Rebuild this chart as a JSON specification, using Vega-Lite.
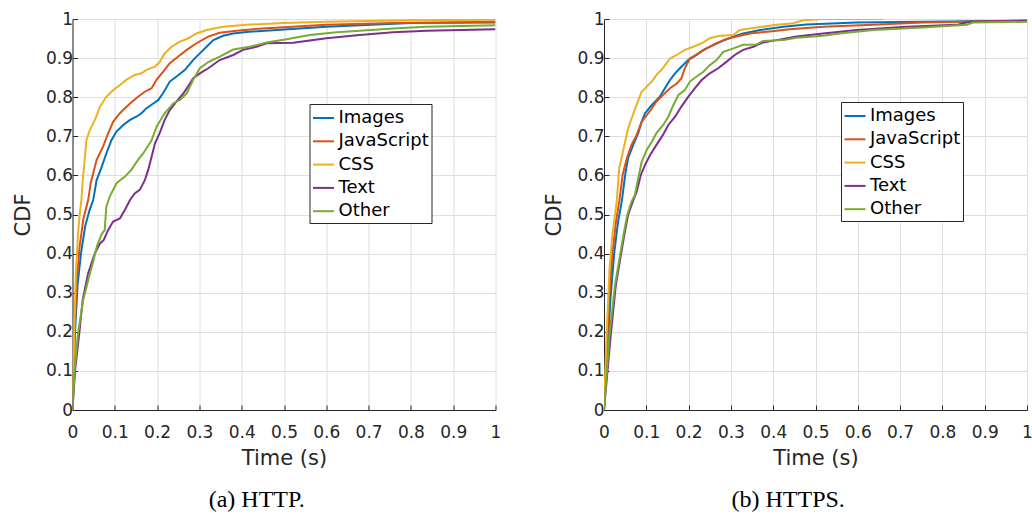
{
  "$schema": "https://vega.github.io/schema/vega-lite/v6.json",
  "padding": {"left": 11.5, "top": 10, "right": 0, "bottom": 0},
  "spacing": 41.5,
  "config": {
    "view": {"stroke": null},
    "font": "DejaVu Sans",
    "axis": {
      "grid": true,
      "gridColor": "#dedede",
      "gridWidth": 1,
      "domainColor": "#262626",
      "domainWidth": 1,
      "tickColor": "#262626",
      "tickSize": -5,
      "labelColor": "#262626",
      "labelFont": "DejaVu Sans",
      "labelFontSize": 17,
      "labelFlush": false,
      "labelOverlap": false,
      "titleColor": "#262626",
      "titleFont": "DejaVu Sans",
      "titleFontSize": 21,
      "titleFontWeight": "normal"
    },
    "legend": {
      "orient": "none",
      "legendX": 237,
      "legendY": 85,
      "direction": "vertical",
      "strokeColor": "#262626",
      "fillColor": "white",
      "padding": 2.5,
      "cornerRadius": 0,
      "symbolType": "stroke",
      "symbolSize": 441,
      "symbolStrokeWidth": 2,
      "labelFont": "DejaVu Sans",
      "labelFontSize": 18,
      "labelColor": "#000000",
      "labelOffset": 3.5,
      "rowPadding": 2.3
    },
    "title": {
      "orient": "bottom",
      "frame": "bounds",
      "anchor": "middle",
      "font": "Liberation Serif",
      "fontSize": 24,
      "fontWeight": "normal",
      "color": "#000000",
      "offset": 20
    }
  },
  "resolve": {"legend": {"color": "independent"}},
  "datasets": {
    "http": [
      {"type": "Images", "time": 0, "cdf": 0},
      {"type": "Images", "time": 0.006, "cdf": 0.2},
      {"type": "Images", "time": 0.012, "cdf": 0.32},
      {"type": "Images", "time": 0.02, "cdf": 0.4},
      {"type": "Images", "time": 0.03, "cdf": 0.47},
      {"type": "Images", "time": 0.04, "cdf": 0.51},
      {"type": "Images", "time": 0.049, "cdf": 0.537},
      {"type": "Images", "time": 0.057, "cdf": 0.588},
      {"type": "Images", "time": 0.069, "cdf": 0.622},
      {"type": "Images", "time": 0.08, "cdf": 0.656},
      {"type": "Images", "time": 0.092, "cdf": 0.69},
      {"type": "Images", "time": 0.104, "cdf": 0.712},
      {"type": "Images", "time": 0.12, "cdf": 0.729},
      {"type": "Images", "time": 0.136, "cdf": 0.742},
      {"type": "Images", "time": 0.151, "cdf": 0.75},
      {"type": "Images", "time": 0.163, "cdf": 0.759},
      {"type": "Images", "time": 0.175, "cdf": 0.772},
      {"type": "Images", "time": 0.191, "cdf": 0.784},
      {"type": "Images", "time": 0.203, "cdf": 0.793},
      {"type": "Images", "time": 0.214, "cdf": 0.81},
      {"type": "Images", "time": 0.23, "cdf": 0.84},
      {"type": "Images", "time": 0.246, "cdf": 0.853},
      {"type": "Images", "time": 0.266, "cdf": 0.87},
      {"type": "Images", "time": 0.285, "cdf": 0.895},
      {"type": "Images", "time": 0.301, "cdf": 0.912},
      {"type": "Images", "time": 0.317, "cdf": 0.929},
      {"type": "Images", "time": 0.333, "cdf": 0.946},
      {"type": "Images", "time": 0.356, "cdf": 0.957},
      {"type": "Images", "time": 0.38, "cdf": 0.963},
      {"type": "Images", "time": 0.411, "cdf": 0.967},
      {"type": "Images", "time": 0.6, "cdf": 0.98},
      {"type": "Images", "time": 0.8, "cdf": 0.99},
      {"type": "Images", "time": 1.0, "cdf": 0.991},

      {"type": "JavaScript", "time": 0, "cdf": 0},
      {"type": "JavaScript", "time": 0.005, "cdf": 0.2},
      {"type": "JavaScript", "time": 0.01, "cdf": 0.33},
      {"type": "JavaScript", "time": 0.017, "cdf": 0.42},
      {"type": "JavaScript", "time": 0.026, "cdf": 0.49},
      {"type": "JavaScript", "time": 0.037, "cdf": 0.537},
      {"type": "JavaScript", "time": 0.043, "cdf": 0.58},
      {"type": "JavaScript", "time": 0.057, "cdf": 0.64},
      {"type": "JavaScript", "time": 0.072, "cdf": 0.673},
      {"type": "JavaScript", "time": 0.084, "cdf": 0.707},
      {"type": "JavaScript", "time": 0.096, "cdf": 0.737},
      {"type": "JavaScript", "time": 0.112, "cdf": 0.759},
      {"type": "JavaScript", "time": 0.136, "cdf": 0.784},
      {"type": "JavaScript", "time": 0.155, "cdf": 0.801},
      {"type": "JavaScript", "time": 0.171, "cdf": 0.814},
      {"type": "JavaScript", "time": 0.187, "cdf": 0.823},
      {"type": "JavaScript", "time": 0.199, "cdf": 0.845},
      {"type": "JavaScript", "time": 0.214, "cdf": 0.865},
      {"type": "JavaScript", "time": 0.23, "cdf": 0.887},
      {"type": "JavaScript", "time": 0.25, "cdf": 0.904},
      {"type": "JavaScript", "time": 0.27, "cdf": 0.921},
      {"type": "JavaScript", "time": 0.293, "cdf": 0.938},
      {"type": "JavaScript", "time": 0.321, "cdf": 0.955},
      {"type": "JavaScript", "time": 0.348, "cdf": 0.965},
      {"type": "JavaScript", "time": 0.388, "cdf": 0.97},
      {"type": "JavaScript", "time": 0.427, "cdf": 0.974},
      {"type": "JavaScript", "time": 0.6, "cdf": 0.985},
      {"type": "JavaScript", "time": 0.758, "cdf": 0.99},
      {"type": "JavaScript", "time": 1.0, "cdf": 0.993},

      {"type": "CSS", "time": 0, "cdf": 0},
      {"type": "CSS", "time": 0.004, "cdf": 0.2},
      {"type": "CSS", "time": 0.008, "cdf": 0.35},
      {"type": "CSS", "time": 0.013, "cdf": 0.45},
      {"type": "CSS", "time": 0.017, "cdf": 0.5},
      {"type": "CSS", "time": 0.021, "cdf": 0.537},
      {"type": "CSS", "time": 0.025, "cdf": 0.597},
      {"type": "CSS", "time": 0.033, "cdf": 0.69},
      {"type": "CSS", "time": 0.041, "cdf": 0.716},
      {"type": "CSS", "time": 0.053, "cdf": 0.742},
      {"type": "CSS", "time": 0.065, "cdf": 0.776},
      {"type": "CSS", "time": 0.08, "cdf": 0.801},
      {"type": "CSS", "time": 0.096, "cdf": 0.818},
      {"type": "CSS", "time": 0.112, "cdf": 0.831},
      {"type": "CSS", "time": 0.128, "cdf": 0.845},
      {"type": "CSS", "time": 0.147, "cdf": 0.857},
      {"type": "CSS", "time": 0.163, "cdf": 0.861},
      {"type": "CSS", "time": 0.175, "cdf": 0.87},
      {"type": "CSS", "time": 0.195, "cdf": 0.878},
      {"type": "CSS", "time": 0.206, "cdf": 0.89},
      {"type": "CSS", "time": 0.218, "cdf": 0.912},
      {"type": "CSS", "time": 0.234, "cdf": 0.929},
      {"type": "CSS", "time": 0.254, "cdf": 0.942},
      {"type": "CSS", "time": 0.273, "cdf": 0.95},
      {"type": "CSS", "time": 0.293, "cdf": 0.963},
      {"type": "CSS", "time": 0.317, "cdf": 0.972},
      {"type": "CSS", "time": 0.356, "cdf": 0.98},
      {"type": "CSS", "time": 0.411, "cdf": 0.985},
      {"type": "CSS", "time": 0.5, "cdf": 0.99},
      {"type": "CSS", "time": 0.6, "cdf": 0.993},
      {"type": "CSS", "time": 0.8, "cdf": 0.997},
      {"type": "CSS", "time": 1.0, "cdf": 0.998},

      {"type": "Text", "time": 0, "cdf": 0},
      {"type": "Text", "time": 0.006, "cdf": 0.1},
      {"type": "Text", "time": 0.016, "cdf": 0.196},
      {"type": "Text", "time": 0.024, "cdf": 0.281},
      {"type": "Text", "time": 0.037, "cdf": 0.35},
      {"type": "Text", "time": 0.053, "cdf": 0.401},
      {"type": "Text", "time": 0.065, "cdf": 0.426},
      {"type": "Text", "time": 0.074, "cdf": 0.435},
      {"type": "Text", "time": 0.084, "cdf": 0.46},
      {"type": "Text", "time": 0.096, "cdf": 0.482},
      {"type": "Text", "time": 0.112, "cdf": 0.49},
      {"type": "Text", "time": 0.124, "cdf": 0.512},
      {"type": "Text", "time": 0.136, "cdf": 0.537},
      {"type": "Text", "time": 0.147, "cdf": 0.554},
      {"type": "Text", "time": 0.159, "cdf": 0.563},
      {"type": "Text", "time": 0.171, "cdf": 0.588},
      {"type": "Text", "time": 0.179, "cdf": 0.614},
      {"type": "Text", "time": 0.187, "cdf": 0.648},
      {"type": "Text", "time": 0.195, "cdf": 0.682},
      {"type": "Text", "time": 0.206, "cdf": 0.708},
      {"type": "Text", "time": 0.218, "cdf": 0.742},
      {"type": "Text", "time": 0.23, "cdf": 0.767},
      {"type": "Text", "time": 0.246, "cdf": 0.789},
      {"type": "Text", "time": 0.262, "cdf": 0.81},
      {"type": "Text", "time": 0.273, "cdf": 0.827},
      {"type": "Text", "time": 0.285, "cdf": 0.848},
      {"type": "Text", "time": 0.301, "cdf": 0.861},
      {"type": "Text", "time": 0.321, "cdf": 0.874},
      {"type": "Text", "time": 0.348, "cdf": 0.895},
      {"type": "Text", "time": 0.38, "cdf": 0.908},
      {"type": "Text", "time": 0.403, "cdf": 0.921},
      {"type": "Text", "time": 0.435, "cdf": 0.929},
      {"type": "Text", "time": 0.459, "cdf": 0.938},
      {"type": "Text", "time": 0.522, "cdf": 0.939},
      {"type": "Text", "time": 0.561, "cdf": 0.945},
      {"type": "Text", "time": 0.6, "cdf": 0.951},
      {"type": "Text", "time": 0.679, "cdf": 0.959},
      {"type": "Text", "time": 0.758, "cdf": 0.966},
      {"type": "Text", "time": 0.837, "cdf": 0.97},
      {"type": "Text", "time": 1.0, "cdf": 0.974},

      {"type": "Other", "time": 0, "cdf": 0},
      {"type": "Other", "time": 0.005, "cdf": 0.1},
      {"type": "Other", "time": 0.013, "cdf": 0.196},
      {"type": "Other", "time": 0.025, "cdf": 0.28},
      {"type": "Other", "time": 0.039, "cdf": 0.34},
      {"type": "Other", "time": 0.049, "cdf": 0.38},
      {"type": "Other", "time": 0.058, "cdf": 0.42},
      {"type": "Other", "time": 0.069, "cdf": 0.45},
      {"type": "Other", "time": 0.076, "cdf": 0.46},
      {"type": "Other", "time": 0.08, "cdf": 0.52},
      {"type": "Other", "time": 0.088, "cdf": 0.546},
      {"type": "Other", "time": 0.104, "cdf": 0.58},
      {"type": "Other", "time": 0.124, "cdf": 0.597},
      {"type": "Other", "time": 0.139, "cdf": 0.614},
      {"type": "Other", "time": 0.155, "cdf": 0.64},
      {"type": "Other", "time": 0.167, "cdf": 0.656},
      {"type": "Other", "time": 0.187, "cdf": 0.69},
      {"type": "Other", "time": 0.199, "cdf": 0.725},
      {"type": "Other", "time": 0.218, "cdf": 0.759},
      {"type": "Other", "time": 0.238, "cdf": 0.784},
      {"type": "Other", "time": 0.254, "cdf": 0.793},
      {"type": "Other", "time": 0.27, "cdf": 0.81},
      {"type": "Other", "time": 0.285, "cdf": 0.844},
      {"type": "Other", "time": 0.301, "cdf": 0.874},
      {"type": "Other", "time": 0.321, "cdf": 0.89},
      {"type": "Other", "time": 0.348, "cdf": 0.904},
      {"type": "Other", "time": 0.38, "cdf": 0.922},
      {"type": "Other", "time": 0.419, "cdf": 0.929},
      {"type": "Other", "time": 0.459, "cdf": 0.94},
      {"type": "Other", "time": 0.506, "cdf": 0.948},
      {"type": "Other", "time": 0.561, "cdf": 0.959},
      {"type": "Other", "time": 0.624, "cdf": 0.966},
      {"type": "Other", "time": 0.679, "cdf": 0.97},
      {"type": "Other", "time": 0.758, "cdf": 0.976},
      {"type": "Other", "time": 0.837, "cdf": 0.98},
      {"type": "Other", "time": 1.0, "cdf": 0.984}
    ],
    "https": [
      {"type": "Images", "time": 0, "cdf": 0},
      {"type": "Images", "time": 0.008, "cdf": 0.15},
      {"type": "Images", "time": 0.015, "cdf": 0.28},
      {"type": "Images", "time": 0.024, "cdf": 0.4},
      {"type": "Images", "time": 0.033, "cdf": 0.48},
      {"type": "Images", "time": 0.042, "cdf": 0.533},
      {"type": "Images", "time": 0.05, "cdf": 0.601},
      {"type": "Images", "time": 0.057, "cdf": 0.644},
      {"type": "Images", "time": 0.069, "cdf": 0.678},
      {"type": "Images", "time": 0.081, "cdf": 0.708},
      {"type": "Images", "time": 0.089, "cdf": 0.737},
      {"type": "Images", "time": 0.097, "cdf": 0.759},
      {"type": "Images", "time": 0.113, "cdf": 0.78},
      {"type": "Images", "time": 0.132, "cdf": 0.801},
      {"type": "Images", "time": 0.144, "cdf": 0.823},
      {"type": "Images", "time": 0.156, "cdf": 0.844},
      {"type": "Images", "time": 0.168, "cdf": 0.861},
      {"type": "Images", "time": 0.183, "cdf": 0.878},
      {"type": "Images", "time": 0.199, "cdf": 0.895},
      {"type": "Images", "time": 0.219, "cdf": 0.908},
      {"type": "Images", "time": 0.235, "cdf": 0.921},
      {"type": "Images", "time": 0.258, "cdf": 0.933},
      {"type": "Images", "time": 0.282, "cdf": 0.945},
      {"type": "Images", "time": 0.306, "cdf": 0.955},
      {"type": "Images", "time": 0.329, "cdf": 0.963},
      {"type": "Images", "time": 0.369, "cdf": 0.972},
      {"type": "Images", "time": 0.424, "cdf": 0.98},
      {"type": "Images", "time": 0.479, "cdf": 0.986},
      {"type": "Images", "time": 0.597, "cdf": 0.991},
      {"type": "Images", "time": 0.754, "cdf": 0.993},
      {"type": "Images", "time": 1.0, "cdf": 0.996},

      {"type": "JavaScript", "time": 0, "cdf": 0},
      {"type": "JavaScript", "time": 0.007, "cdf": 0.17},
      {"type": "JavaScript", "time": 0.013, "cdf": 0.3},
      {"type": "JavaScript", "time": 0.02, "cdf": 0.4},
      {"type": "JavaScript", "time": 0.028, "cdf": 0.48},
      {"type": "JavaScript", "time": 0.036, "cdf": 0.533},
      {"type": "JavaScript", "time": 0.044, "cdf": 0.601},
      {"type": "JavaScript", "time": 0.054, "cdf": 0.644},
      {"type": "JavaScript", "time": 0.065, "cdf": 0.678},
      {"type": "JavaScript", "time": 0.077, "cdf": 0.703},
      {"type": "JavaScript", "time": 0.089, "cdf": 0.737},
      {"type": "JavaScript", "time": 0.101, "cdf": 0.754},
      {"type": "JavaScript", "time": 0.113, "cdf": 0.771},
      {"type": "JavaScript", "time": 0.124, "cdf": 0.789},
      {"type": "JavaScript", "time": 0.14, "cdf": 0.806},
      {"type": "JavaScript", "time": 0.156, "cdf": 0.823},
      {"type": "JavaScript", "time": 0.172, "cdf": 0.835},
      {"type": "JavaScript", "time": 0.183, "cdf": 0.848},
      {"type": "JavaScript", "time": 0.191, "cdf": 0.874},
      {"type": "JavaScript", "time": 0.203, "cdf": 0.899},
      {"type": "JavaScript", "time": 0.223, "cdf": 0.912},
      {"type": "JavaScript", "time": 0.243, "cdf": 0.925},
      {"type": "JavaScript", "time": 0.266, "cdf": 0.938},
      {"type": "JavaScript", "time": 0.29, "cdf": 0.949},
      {"type": "JavaScript", "time": 0.313, "cdf": 0.955},
      {"type": "JavaScript", "time": 0.345, "cdf": 0.963},
      {"type": "JavaScript", "time": 0.392, "cdf": 0.968},
      {"type": "JavaScript", "time": 0.439, "cdf": 0.974},
      {"type": "JavaScript", "time": 0.518, "cdf": 0.98},
      {"type": "JavaScript", "time": 0.636, "cdf": 0.985},
      {"type": "JavaScript", "time": 0.754, "cdf": 0.991},
      {"type": "JavaScript", "time": 1.0, "cdf": 0.996},

      {"type": "CSS", "time": 0, "cdf": 0},
      {"type": "CSS", "time": 0.006, "cdf": 0.19},
      {"type": "CSS", "time": 0.013, "cdf": 0.36},
      {"type": "CSS", "time": 0.02, "cdf": 0.45},
      {"type": "CSS", "time": 0.026, "cdf": 0.5},
      {"type": "CSS", "time": 0.03, "cdf": 0.533},
      {"type": "CSS", "time": 0.036, "cdf": 0.618},
      {"type": "CSS", "time": 0.043, "cdf": 0.652},
      {"type": "CSS", "time": 0.05, "cdf": 0.686},
      {"type": "CSS", "time": 0.057, "cdf": 0.72},
      {"type": "CSS", "time": 0.068, "cdf": 0.754},
      {"type": "CSS", "time": 0.077, "cdf": 0.78},
      {"type": "CSS", "time": 0.089, "cdf": 0.814},
      {"type": "CSS", "time": 0.101, "cdf": 0.827},
      {"type": "CSS", "time": 0.113, "cdf": 0.84},
      {"type": "CSS", "time": 0.124, "cdf": 0.857},
      {"type": "CSS", "time": 0.136, "cdf": 0.87},
      {"type": "CSS", "time": 0.148, "cdf": 0.887},
      {"type": "CSS", "time": 0.156, "cdf": 0.899},
      {"type": "CSS", "time": 0.172, "cdf": 0.908},
      {"type": "CSS", "time": 0.191, "cdf": 0.921},
      {"type": "CSS", "time": 0.211, "cdf": 0.929},
      {"type": "CSS", "time": 0.231, "cdf": 0.938},
      {"type": "CSS", "time": 0.25, "cdf": 0.951},
      {"type": "CSS", "time": 0.274, "cdf": 0.957},
      {"type": "CSS", "time": 0.306, "cdf": 0.959},
      {"type": "CSS", "time": 0.321, "cdf": 0.972},
      {"type": "CSS", "time": 0.361, "cdf": 0.978},
      {"type": "CSS", "time": 0.408, "cdf": 0.985},
      {"type": "CSS", "time": 0.447, "cdf": 0.989},
      {"type": "CSS", "time": 0.471, "cdf": 0.997},
      {"type": "CSS", "time": 0.518, "cdf": 1.0},
      {"type": "CSS", "time": 0.66, "cdf": 1.0},

      {"type": "Text", "time": 0, "cdf": 0},
      {"type": "Text", "time": 0.016, "cdf": 0.192},
      {"type": "Text", "time": 0.028, "cdf": 0.32},
      {"type": "Text", "time": 0.048, "cdf": 0.448},
      {"type": "Text", "time": 0.057, "cdf": 0.499},
      {"type": "Text", "time": 0.068, "cdf": 0.533},
      {"type": "Text", "time": 0.077, "cdf": 0.558},
      {"type": "Text", "time": 0.087, "cdf": 0.601},
      {"type": "Text", "time": 0.097, "cdf": 0.627},
      {"type": "Text", "time": 0.109, "cdf": 0.652},
      {"type": "Text", "time": 0.124, "cdf": 0.678},
      {"type": "Text", "time": 0.139, "cdf": 0.703},
      {"type": "Text", "time": 0.152, "cdf": 0.729},
      {"type": "Text", "time": 0.168, "cdf": 0.75},
      {"type": "Text", "time": 0.183, "cdf": 0.776},
      {"type": "Text", "time": 0.199, "cdf": 0.801},
      {"type": "Text", "time": 0.215, "cdf": 0.823},
      {"type": "Text", "time": 0.231, "cdf": 0.844},
      {"type": "Text", "time": 0.25, "cdf": 0.861},
      {"type": "Text", "time": 0.27, "cdf": 0.874},
      {"type": "Text", "time": 0.29, "cdf": 0.891},
      {"type": "Text", "time": 0.309, "cdf": 0.908},
      {"type": "Text", "time": 0.329, "cdf": 0.921},
      {"type": "Text", "time": 0.353, "cdf": 0.929},
      {"type": "Text", "time": 0.376, "cdf": 0.94},
      {"type": "Text", "time": 0.408, "cdf": 0.946},
      {"type": "Text", "time": 0.455, "cdf": 0.955},
      {"type": "Text", "time": 0.518, "cdf": 0.963},
      {"type": "Text", "time": 0.597, "cdf": 0.972},
      {"type": "Text", "time": 0.715, "cdf": 0.98},
      {"type": "Text", "time": 0.833, "cdf": 0.985},
      {"type": "Text", "time": 0.865, "cdf": 0.993},
      {"type": "Text", "time": 1.0, "cdf": 0.995},

      {"type": "Other", "time": 0, "cdf": 0},
      {"type": "Other", "time": 0.013, "cdf": 0.192},
      {"type": "Other", "time": 0.026, "cdf": 0.32},
      {"type": "Other", "time": 0.046, "cdf": 0.448},
      {"type": "Other", "time": 0.055, "cdf": 0.499},
      {"type": "Other", "time": 0.065, "cdf": 0.533},
      {"type": "Other", "time": 0.073, "cdf": 0.55},
      {"type": "Other", "time": 0.081, "cdf": 0.592},
      {"type": "Other", "time": 0.089, "cdf": 0.635},
      {"type": "Other", "time": 0.101, "cdf": 0.665},
      {"type": "Other", "time": 0.113, "cdf": 0.686},
      {"type": "Other", "time": 0.124, "cdf": 0.708},
      {"type": "Other", "time": 0.14, "cdf": 0.729},
      {"type": "Other", "time": 0.152, "cdf": 0.75},
      {"type": "Other", "time": 0.164, "cdf": 0.78},
      {"type": "Other", "time": 0.176, "cdf": 0.806},
      {"type": "Other", "time": 0.191, "cdf": 0.818},
      {"type": "Other", "time": 0.203, "cdf": 0.84},
      {"type": "Other", "time": 0.219, "cdf": 0.853},
      {"type": "Other", "time": 0.235, "cdf": 0.865},
      {"type": "Other", "time": 0.25, "cdf": 0.882},
      {"type": "Other", "time": 0.266, "cdf": 0.895},
      {"type": "Other", "time": 0.282, "cdf": 0.916},
      {"type": "Other", "time": 0.306, "cdf": 0.925},
      {"type": "Other", "time": 0.329, "cdf": 0.934},
      {"type": "Other", "time": 0.361, "cdf": 0.935},
      {"type": "Other", "time": 0.376, "cdf": 0.944},
      {"type": "Other", "time": 0.424, "cdf": 0.946},
      {"type": "Other", "time": 0.455, "cdf": 0.952},
      {"type": "Other", "time": 0.518, "cdf": 0.957},
      {"type": "Other", "time": 0.557, "cdf": 0.963},
      {"type": "Other", "time": 0.636, "cdf": 0.972},
      {"type": "Other", "time": 0.754, "cdf": 0.978},
      {"type": "Other", "time": 0.857, "cdf": 0.985},
      {"type": "Other", "time": 0.872, "cdf": 0.991},
      {"type": "Other", "time": 1.0, "cdf": 0.993}
    ]
  },
  "hconcat": [
    {
      "title": {"text": "(a) HTTP."},
      "data": {"name": "http"},
      "width": 423,
      "height": 391,
      "mark": {"type": "line", "strokeWidth": 2, "clip": true},
      "encoding": {
        "x": {
          "field": "time", "type": "quantitative", "title": "Time (s)",
          "scale": {"domain": [0, 1], "nice": false},
          "axis": {"values": [0, 0.1, 0.2, 0.3, 0.4, 0.5, 0.6, 0.7, 0.8, 0.9, 1], "format": "~g", "labelPadding": 19, "titlePadding": 7}
        },
        "y": {
          "field": "cdf", "type": "quantitative", "title": "CDF",
          "scale": {"domain": [0, 1], "nice": false},
          "axis": {"values": [0, 0.1, 0.2, 0.3, 0.4, 0.5, 0.6, 0.7, 0.8, 0.9, 1], "format": "~g", "labelPadding": 5, "titlePadding": 12}
        },
        "color": {
          "field": "type", "type": "nominal", "title": null,
          "scale": {"domain": ["Images", "JavaScript", "CSS", "Text", "Other"], "range": ["#0072BD", "#D95319", "#EDB120", "#7E2F8E", "#77AC30"]}
        }
      }
    },
    {
      "title": {"text": "(b) HTTPS."},
      "data": {"name": "https"},
      "width": 423,
      "height": 391,
      "mark": {"type": "line", "strokeWidth": 2, "clip": true},
      "encoding": {
        "x": {
          "field": "time", "type": "quantitative", "title": "Time (s)",
          "scale": {"domain": [0, 1], "nice": false},
          "axis": {"values": [0, 0.1, 0.2, 0.3, 0.4, 0.5, 0.6, 0.7, 0.8, 0.9, 1], "format": "~g", "labelPadding": 19, "titlePadding": 7}
        },
        "y": {
          "field": "cdf", "type": "quantitative", "title": "CDF",
          "scale": {"domain": [0, 1], "nice": false},
          "axis": {"values": [0, 0.1, 0.2, 0.3, 0.4, 0.5, 0.6, 0.7, 0.8, 0.9, 1], "format": "~g", "labelPadding": 5, "titlePadding": 12}
        },
        "color": {
          "field": "type", "type": "nominal", "title": null,
          "scale": {"domain": ["Images", "JavaScript", "CSS", "Text", "Other"], "range": ["#0072BD", "#D95319", "#EDB120", "#7E2F8E", "#77AC30"]},
          "legend": {"legendY": 83}
        }
      }
    }
  ]
}
